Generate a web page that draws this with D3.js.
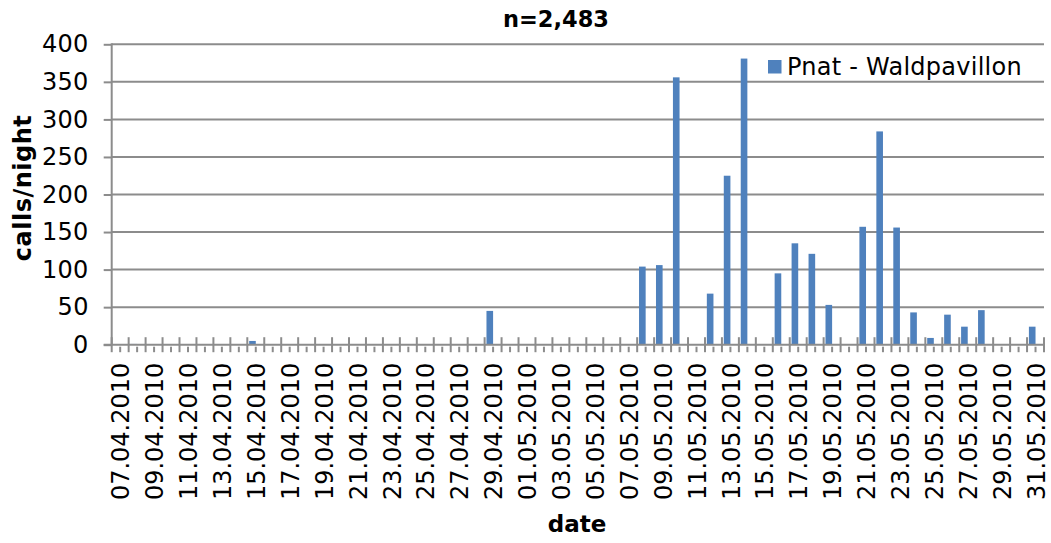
<!DOCTYPE html>
<html>
<head>
<meta charset="utf-8">
<script src="https://cdn.jsdelivr.net/npm/d3@7"></script>
<style>
  html, body { margin: 0; padding: 0; background: #fff; }
  svg { display: block; font-family: "DejaVu Sans", Verdana, sans-serif; }
</style>
</head>
<body>
<svg id="chart" width="1051" height="543"></svg>
<script>
// ---- data ----
const dates = [
  "07.04.2010","08.04.2010","09.04.2010","10.04.2010","11.04.2010","12.04.2010","13.04.2010",
  "14.04.2010","15.04.2010","16.04.2010","17.04.2010","18.04.2010","19.04.2010","20.04.2010",
  "21.04.2010","22.04.2010","23.04.2010","24.04.2010","25.04.2010","26.04.2010","27.04.2010",
  "28.04.2010","29.04.2010","30.04.2010","01.05.2010","02.05.2010","03.05.2010","04.05.2010",
  "05.05.2010","06.05.2010","07.05.2010","08.05.2010","09.05.2010","10.05.2010","11.05.2010",
  "12.05.2010","13.05.2010","14.05.2010","15.05.2010","16.05.2010","17.05.2010","18.05.2010",
  "19.05.2010","20.05.2010","21.05.2010","22.05.2010","23.05.2010","24.05.2010","25.05.2010",
  "26.05.2010","27.05.2010","28.05.2010","29.05.2010","30.05.2010","31.05.2010"
];
const callsPerNight = [
  0, 1, 0, 0, 0, 0, 0,
  0, 5, 0, 0, 0, 0, 0,
  0, 0, 0, 0, 0, 0, 0,
  0, 45, 0, 0, 0, 0, 0,
  0, 0, 0, 104, 106, 356, 0,
  68, 225, 381, 0, 95, 135, 121,
  53, 0, 157, 284, 156, 43, 9,
  40, 24, 46, 0, 0, 24
];
// clustered slots per date: the series plus an empty second slot (as in the original)
const seriesSlots = ["Pnat - Waldpavillon", "(empty)"];
const seriesName = "Pnat - Waldpavillon";
const yTicks = [0, 50, 100, 150, 200, 250, 300, 350, 400];
const labelDates = dates.filter((d, i) => i % 2 === 0);
const titleText = "n=2,483";
const xTitle = "date";
const yTitle = "calls/night";

// ---- layout ----
const svg = d3.select("#chart");
const plotL = 111.7, plotR = 1044, plotT = 44.3, plotB = 344.7;
const axisColor = "#8c8c8c";
const barColor = "#4f81bd";

const x0 = d3.scaleBand().domain(dates).range([plotL, plotR]).padding(0);
const x1 = d3.scaleBand().domain(seriesSlots).range([0, x0.bandwidth()])
  .paddingInner(0).paddingOuter(0.28);
const y = d3.scaleLinear().domain([0, 400]).range([plotB, plotT]);

// y axis ticks + labels
const yAxis = d3.axisLeft(y).tickValues(yTicks).tickSize(8).tickSizeOuter(0).tickPadding(15);
const gy = svg.append("g").attr("transform", `translate(${plotL},0)`).call(yAxis);
gy.select(".domain").remove();
gy.selectAll(".tick line").attr("stroke", axisColor).attr("stroke-width", 2);
gy.selectAll(".tick text").attr("font-size", 24).attr("fill", "#000")
  .attr("letter-spacing", 0.3)
  .attr("font-family", "DejaVu Sans, Verdana, sans-serif");

// gridlines
svg.append("g").selectAll("line").data(yTicks.filter(t => t > 0)).join("line")
  .attr("x1", plotL).attr("x2", plotR)
  .attr("y1", d => y(d)).attr("y2", d => y(d))
  .attr("stroke", axisColor).attr("stroke-width", 2);

// y axis line
svg.append("line").attr("x1", plotL).attr("x2", plotL).attr("y1", plotT - 1).attr("y2", plotB)
  .attr("stroke", axisColor).attr("stroke-width", 2);

// bars
svg.append("g").selectAll("rect")
  .data(dates.map((d, i) => ({ d, v: callsPerNight[i] })).filter(o => o.v > 0))
  .join("rect")
  .attr("x", o => x0(o.d) + x1(seriesName))
  .attr("width", x1.bandwidth())
  .attr("y", o => y(o.v))
  .attr("height", o => y(0) - y(o.v))
  .attr("fill", barColor);

// x axis line
svg.append("line").attr("x1", plotL - 8).attr("x2", plotR).attr("y1", plotB).attr("y2", plotB)
  .attr("stroke", axisColor).attr("stroke-width", 2);

// major ticks at category boundaries (crossing), minor ticks at category centres
const boundaries = dates.map(d => x0(d)).concat([plotR]);
svg.append("g").selectAll("line").data(boundaries).join("line")
  .attr("x1", d => d).attr("x2", d => d)
  .attr("y1", plotB - 7.5).attr("y2", plotB + 7.5)
  .attr("stroke", axisColor).attr("stroke-width", 2);
svg.append("g").selectAll("line").data(dates).join("line")
  .attr("x1", d => x0(d) + x0.bandwidth() / 2).attr("x2", d => x0(d) + x0.bandwidth() / 2)
  .attr("y1", plotB + 2).attr("y2", plotB + 7.5)
  .attr("stroke", axisColor).attr("stroke-width", 2);

// x labels
const xAxis = d3.axisBottom(x0).tickValues(labelDates).tickSize(0).tickPadding(0);
const gx = svg.append("g").attr("transform", `translate(0,${plotB})`).call(xAxis);
gx.select(".domain").remove();
gx.selectAll(".tick line").remove();
gx.selectAll(".tick text")
  .attr("font-size", 24).attr("fill", "#000")
  .attr("font-family", "DejaVu Sans, Verdana, sans-serif")
  .attr("transform", "rotate(-90)")
  .attr("text-anchor", "end")
  .attr("x", -18).attr("y", 0).attr("dy", "0.38em");

// titles
svg.append("text").attr("x", 556).attr("y", 27).attr("text-anchor", "middle")
  .attr("font-size", 22.5).attr("font-weight", "bold").text(titleText);
svg.append("text").attr("x", 577).attr("y", 532).attr("text-anchor", "middle")
  .attr("font-size", 23).attr("font-weight", "bold").text(xTitle);
svg.append("text").attr("transform", "translate(31,188) rotate(-90)").attr("text-anchor", "middle")
  .attr("font-size", 24).attr("letter-spacing", 0.5).attr("font-weight", "bold").text(yTitle);

// legend
const lg = svg.append("g").attr("transform", "translate(768,60)");
lg.append("rect").attr("width", 13.5).attr("height", 13.5).attr("fill", barColor);
lg.append("text").attr("x", 19).attr("y", 15).attr("font-size", 24).attr("letter-spacing", 0.25)
  .attr("fill", "#000").text(seriesName);
</script>
</body>
</html>
